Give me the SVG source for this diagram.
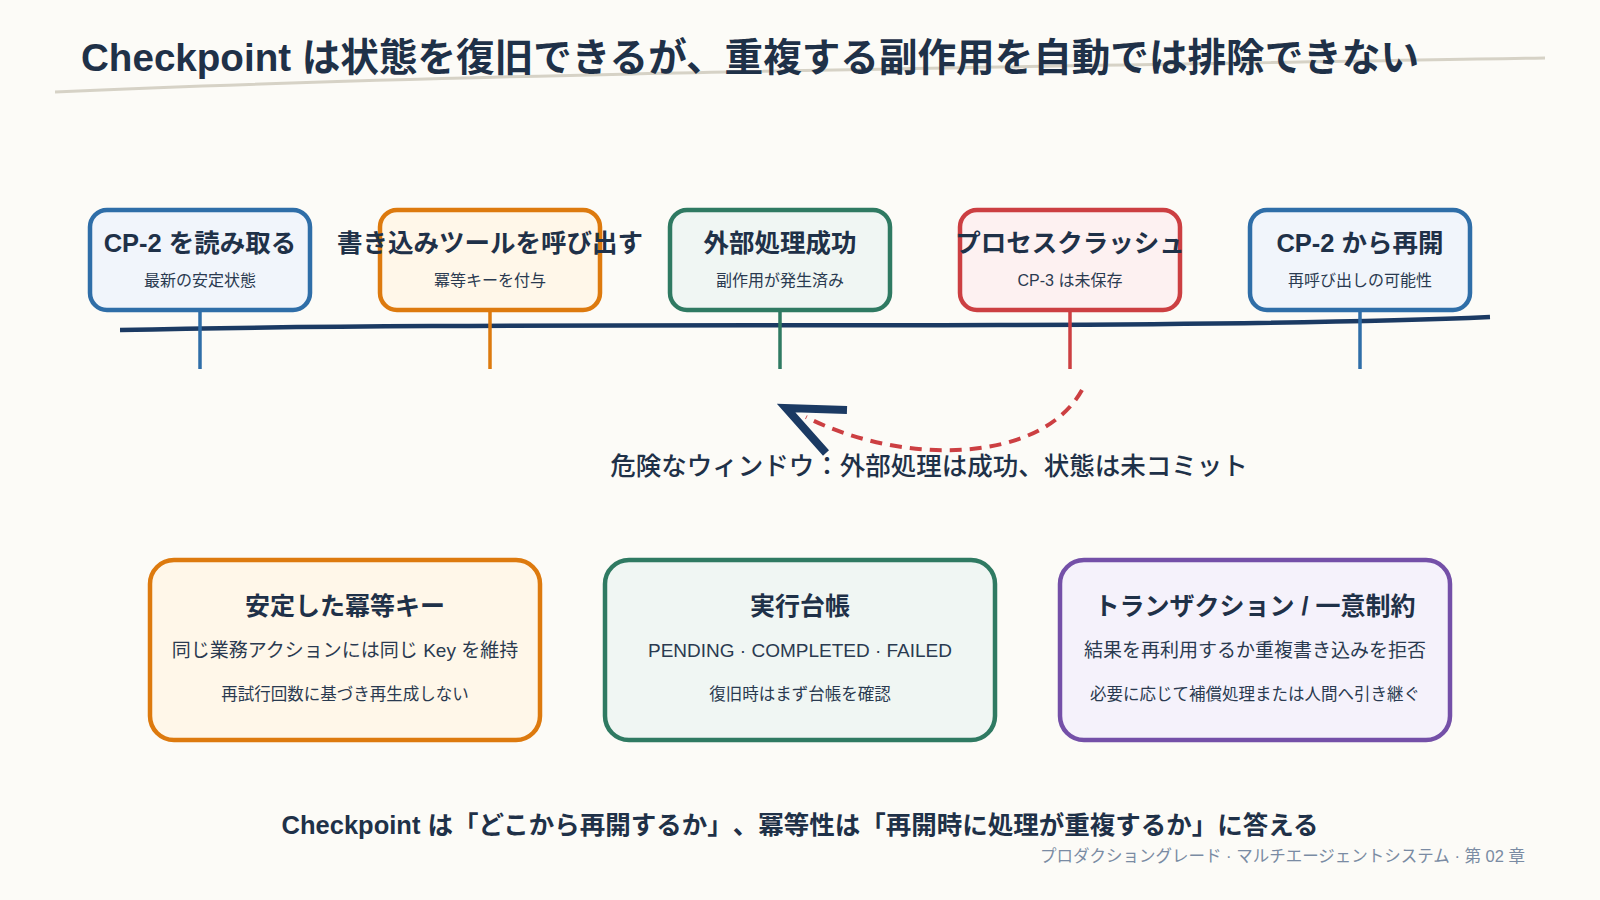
<svg xmlns="http://www.w3.org/2000/svg" width="1600" height="900" viewBox="0 0 1600 900">
<style>
text{font-family:"Liberation Sans","Noto Sans CJK JP",sans-serif;fill:#1f3148;text-spacing-trim:space-all}
.ttl{font-size:38.6px;font-weight:bold}
.nt{font-size:25.5px;font-weight:bold;text-anchor:middle}
.ns{font-size:16px;text-anchor:middle;fill:#2a3a50}
.ct{font-size:25px;font-weight:bold;text-anchor:middle}
.c2{font-size:19px;text-anchor:middle;fill:#2a3a50}
.c3{font-size:16.5px;text-anchor:middle;fill:#2a3a50}
.box{stroke-width:4.5}
.blue{stroke:#2f6ea8;fill:#f1f5fb}
.orange{stroke:#dd7a0e;fill:#fff7e9}
.green{stroke:#2f7a62;fill:#f0f6f3}
.red{stroke:#cc3f42;fill:#fdf1f1}
.purple{stroke:#7450a8;fill:#f5f2fb}
.stem{stroke-width:3.5;fill:none}
</style>
<rect width="1600" height="900" fill="#fcfbf7"/>
<path d="M55,92 C 500,72 1100,66 1545,58" stroke="#d6d2c6" stroke-width="3" fill="none"/>
<text class="ttl" x="81" y="71">Checkpoint は状態を復旧できるが、重複する副作用を自動では排除できない</text>

<g id="connectors">
<path d="M120,330 C 400,324 700,326 1000,325 C 1250,324 1400,321 1490,317" stroke="#1b3a63" stroke-width="4.5" fill="none"/>
<line class="stem" x1="200" y1="310" x2="200" y2="369" stroke="#2f6ea8"/>
<line class="stem" x1="490" y1="310" x2="490" y2="369" stroke="#dd7a0e"/>
<line class="stem" x1="780" y1="310" x2="780" y2="369" stroke="#2f7a62"/>
<line class="stem" x1="1070" y1="310" x2="1070" y2="369" stroke="#cc3f42"/>
<line class="stem" x1="1360" y1="310" x2="1360" y2="369" stroke="#2f6ea8"/>
<path d="M1082,390 C 1040,465 900,465 806,417" stroke="#cc3f42" stroke-width="4" stroke-dasharray="12,8" fill="none"/>
<polyline points="847,410 786,408 826,453" stroke="#1b3a63" stroke-width="8" fill="none" stroke-linejoin="miter"/>
</g>

<g id="n1"><rect class="box blue" x="90" y="210" width="220" height="100" rx="17"/>
<text class="nt" x="200" y="252">CP-2 を読み取る</text><text class="ns" x="200" y="286">最新の安定状態</text></g>
<g id="n2"><rect class="box orange" x="380" y="210" width="220" height="100" rx="17"/>
<text class="nt" x="490" y="252">書き込みツールを呼び出す</text><text class="ns" x="490" y="286">冪等キーを付与</text></g>
<g id="n3"><rect class="box green" x="670" y="210" width="220" height="100" rx="17"/>
<text class="nt" x="780" y="252">外部処理成功</text><text class="ns" x="780" y="286">副作用が発生済み</text></g>
<g id="n4"><rect class="box red" x="960" y="210" width="220" height="100" rx="17"/>
<text class="nt" x="1070" y="252">プロセスクラッシュ</text><text class="ns" x="1070" y="286">CP-3 は未保存</text></g>
<g id="n5"><rect class="box blue" x="1250" y="210" width="220" height="100" rx="17"/>
<text class="nt" x="1360" y="252">CP-2 から再開</text><text class="ns" x="1360" y="286">再呼び出しの可能性</text></g>

<text x="929" y="475" font-size="25.5" text-anchor="middle" font-weight="500">危険なウィンドウ：外部処理は成功、状態は未コミット</text>

<g id="c1"><rect class="box orange" x="150" y="560" width="390" height="180" rx="24"/>
<text class="ct" x="345" y="615">安定した冪等キー</text>
<text class="c2" x="345" y="657">同じ業務アクションには同じ Key を維持</text>
<text class="c3" x="345" y="700">再試行回数に基づき再生成しない</text></g>
<g id="c2"><rect class="box green" x="605" y="560" width="390" height="180" rx="24"/>
<text class="ct" x="800" y="615">実行台帳</text>
<text class="c2" x="800" y="657">PENDING · COMPLETED · FAILED</text>
<text class="c3" x="800" y="700">復旧時はまず台帳を確認</text></g>
<g id="c3"><rect class="box purple" x="1060" y="560" width="390" height="180" rx="24"/>
<text class="ct" x="1255" y="615">トランザクション / 一意制約</text>
<text class="c2" x="1255" y="657">結果を再利用するか重複書き込みを拒否</text>
<text class="c3" x="1255" y="700">必要に応じて補償処理または人間へ引き継ぐ</text></g>

<text x="800" y="834" font-size="25.5" font-weight="bold" text-anchor="middle">Checkpoint は「どこから再開するか」、冪等性は「再開時に処理が重複するか」に答える</text>
<text x="1525" y="862" font-size="16.5" text-anchor="end" style="fill:#7a8ba3">プロダクショングレード · マルチエージェントシステム · 第 02 章</text>
</svg>
